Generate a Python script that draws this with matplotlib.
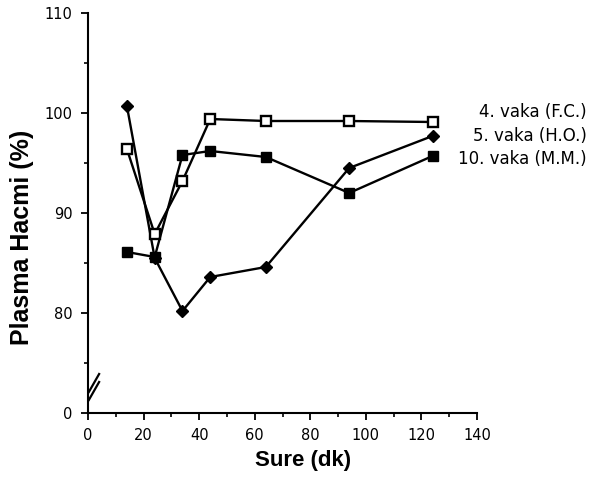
import numpy as np
import matplotlib.pyplot as plt
from matplotlib.ticker import FixedLocator

# time points (dk) and plasma volume (%) per case
sure = [14, 24, 34, 44, 64, 94, 124]
vaka4_fc = [96.4, 87.9, 93.2, 99.4, 99.2, 99.2, 99.1]
vaka5_ho = [100.7, 85.5, 80.2, 83.6, 84.6, 94.5, 97.7]
vaka10_mm = [86.1, 85.6, 95.8, 96.2, 95.6, 92.0, 95.7]
labels = ['4. vaka (F.C.)', '5. vaka (H.O.)', '10. vaka (M.M.)']

y_ticks = [70, 80, 90, 100, 110]   # 70 stands for the broken-axis "0"
y_ticklabels = ['0', '80', '90', '100', '110']
x_ticks = [0, 20, 40, 60, 80, 100, 120, 140]

fig = plt.figure(figsize=(5.89, 4.83), dpi=100)
ax = fig.add_axes([88/589, 70/483, 389/589, 400/483])

lw = 1.7
ax.plot(sure, vaka4_fc, color='black', lw=lw, marker='s', ms=7,
        mfc='white', mec='black', mew=1.7, zorder=3)
ax.plot(sure, vaka5_ho, color='black', lw=lw, marker='D', ms=6.5,
        mfc='black', mec='black', zorder=2)
ax.plot(sure, vaka10_mm, color='black', lw=lw, marker='s', ms=7,
        mfc='black', mec='black', zorder=4)

ax.set_xlim(0, 140)
ax.set_ylim(70, 110)
ax.spines['top'].set_visible(False)
ax.spines['right'].set_visible(False)
ax.spines['left'].set_linewidth(1.5)
ax.spines['bottom'].set_linewidth(1.5)

ax.set_xticks(x_ticks)
ax.set_xticklabels([str(v) for v in x_ticks])
ax.xaxis.set_minor_locator(FixedLocator(np.arange(10, 140, 20)))
ax.set_yticks(y_ticks)
ax.set_yticklabels(y_ticklabels)
ax.yaxis.set_minor_locator(FixedLocator([75, 85, 95, 105]))
ax.tick_params(which='major', direction='out', length=5, width=1.3,
               labelsize=10.5, pad=6)
ax.tick_params(which='minor', direction='out', length=3, width=1.2)
for t in ax.get_xticklabels() + ax.get_yticklabels():
    t.set_family('DejaVu Sans')

# axis break marks
brk = 72.6
for dy in (-0.4, 0.4):
    ax.plot([0.3, 4.0], [brk + dy - 0.9, brk + dy + 0.9], color='black',
            lw=1.6, clip_on=False)

ax.set_xlabel('Sure (dk)', fontsize=16, fontweight='bold',
              family='Liberation Sans')
ax.xaxis.set_label_coords(0.553, -0.093)
ax.set_ylabel('Plasma Hacmi (%)', fontsize=18, fontweight='bold',
              family='Liberation Sans')
ax.yaxis.set_label_coords(-0.138, 0.44)

for lab, ypix in zip(labels, [112, 136, 159]):
    fig.text(587/589, 1 - ypix/483, lab, ha='right', va='center',
             fontsize=12, family='DejaVu Sans')

fig.savefig('out.png', dpi=100)
